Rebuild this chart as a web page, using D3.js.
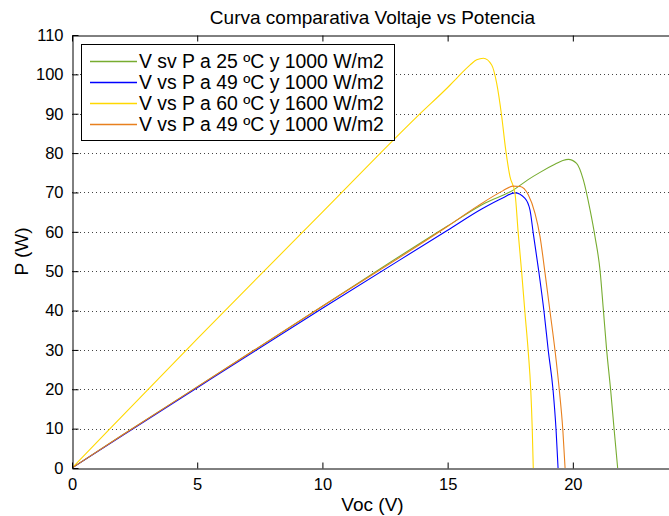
<!DOCTYPE html>
<html>
<head>
<meta charset="utf-8">
<script src="https://cdn.jsdelivr.net/npm/d3@7"></script>
<style>
  html, body { margin: 0; padding: 0; background: #fff; }
  svg { display: block; }
  text { font-family: "Liberation Sans", Arial, Helvetica, sans-serif; fill: #000; }
</style>
</head>
<body>
<svg id="chart" width="669" height="516"></svg>
<script>
// ---- data ----
const title = "Curva comparativa Voltaje vs Potencia";
const xLabel = "Voc (V)";
const yLabel = "P (W)";
const xTicks = [0, 5, 10, 15, 20];
const yTicks = [0, 10, 20, 30, 40, 50, 60, 70, 80, 90, 100, 110];

const seriesNames = [
  "V sv P a 25 ºC y 1000 W/m2",
  "V vs P a 49 ºC y 1000 W/m2",
  "V vs P a 60 ºC y 1600 W/m2",
  "V vs P a 49 ºC y 1000 W/m2"
];
const seriesColors = ["#77ac30", "#0000ff", "#ffd800", "#e8801e"];

const greenV = [0, 2, 5, 10, 15, 16.5, 17.62, 18.2, 18.69, 19.3, 19.6, 19.82, 20.15, 20.42, 20.69, 20.89, 21.09, 21.22, 21.35, 21.51, 21.65, 21.79];
const greenP = [0, 8.3, 20.6, 41.1, 61.5, 67.3, 70.6, 73.2, 75.1, 77.2, 78.1, 78.4, 77.4, 73.2, 65.5, 58.6, 50.0, 40.1, 30, 19.8, 9.7, 0];

const blueV = [0, 2, 5, 10, 15, 16.36, 17.2, 17.69, 18.09, 18.29, 18.42, 18.65, 18.85, 19.02, 19.21, 19.33, 19.41];
const blueP = [0, 8.2, 20.4, 40.6, 60.4, 65.8, 68.6, 69.9, 68.5, 65.5, 59.6, 49.5, 39.7, 29.8, 19.8, 9.7, 0];

const yellowV = [0, 1.5, 5, 10, 13.8, 15.1, 15.36, 15.9, 16.16, 16.43, 16.76, 16.96, 17.16, 17.32, 17.49, 17.69, 17.82, 17.96, 18.09, 18.22, 18.32, 18.38, 18.42];
const yellowP = [0, 9.9, 32.8, 65.0, 89.4, 97.3, 99.0, 102.4, 103.7, 104.1, 102.4, 97.7, 89.3, 80.8, 74, 69.8, 59.6, 49.5, 39.3, 29.5, 19.8, 9.7, 0];

const orangeV = [0, 2, 5, 10, 15, 16.16, 17.2, 17.6, 17.9, 18.22, 18.49, 18.69, 18.89, 19.09, 19.29, 19.46, 19.6, 19.69];
const orangeP = [0, 8.3, 20.6, 41.1, 61.4, 66.4, 70.4, 71.6, 71.5, 69.4, 64.7, 58.8, 49.5, 39.7, 29.8, 19.8, 9.7, 0];

const seriesV = [greenV, blueV, yellowV, orangeV];
const seriesP = [greenP, blueP, yellowP, orangeP];

// ---- layout ----
const svg = d3.select("#chart");
const mLeft = 72, mRight = 673, mTop = 35, mBottom = 468;
const x = d3.scaleLinear().domain([0, 24]).range([mLeft, mRight]);
const y = d3.scaleLinear().domain([0, 110]).range([mBottom, mTop]);

// grid (horizontal dotted)
svg.append("g").selectAll("line")
  .data(yTicks.filter(d => d > 0 && d < 110))
  .join("line")
  .attr("x1", mLeft).attr("x2", mRight)
  .attr("y1", d => Math.round(y(d)) + 0.5).attr("y2", d => Math.round(y(d)) + 0.5)
  .attr("stroke", "#444").attr("stroke-width", 1)
  .attr("stroke-dasharray", "1,3");

// lines
const line = d3.line().x(d => x(d[0])).y(d => y(d[1])).curve(d3.curveMonotoneX);
svg.append("clipPath").attr("id", "clip").append("rect")
  .attr("x", mLeft).attr("y", mTop).attr("width", mRight - mLeft).attr("height", mBottom - mTop);
const lines = svg.append("g").attr("clip-path", "url(#clip)");
seriesV.forEach((vs, i) => {
  const pts = vs.map((v, j) => [v, seriesP[i][j]]);
  lines.append("path").datum(pts)
    .attr("d", line)
    .attr("fill", "none")
    .attr("stroke", seriesColors[i])
    .attr("stroke-width", 1.1);
});

// axes
const xAxisB = d3.axisBottom(x).tickValues(xTicks).tickSizeInner(-6).tickSizeOuter(0).tickPadding(10);
const gxb = svg.append("g").attr("transform", `translate(0,${mBottom + 0.5})`).call(xAxisB);
const xAxisT = d3.axisTop(x).tickValues(xTicks).tickSizeInner(-6).tickSizeOuter(0).tickFormat("");
const gxt = svg.append("g").attr("transform", `translate(0,${mTop + 0.5})`).call(xAxisT);
const yAxisL = d3.axisLeft(y).tickValues(yTicks).tickSizeInner(-6).tickSizeOuter(0).tickPadding(9);
const gyl = svg.append("g").attr("transform", `translate(${mLeft + 0.5},0)`).call(yAxisL);

[gxb, gxt, gyl].forEach(g => {
  g.selectAll(".domain").attr("stroke", "#000").attr("stroke-width", 1);
  g.selectAll(".tick line").attr("stroke", "#000").attr("stroke-width", 1);
  g.selectAll("text").style("font-size", "16.5px").attr("fill", "#000");
});

// title and labels
svg.append("text").attr("x", (mLeft + mRight) / 2).attr("y", 24)
  .attr("text-anchor", "middle").style("font-size", "19px").text(title);
svg.append("text").attr("x", (mLeft + mRight) / 2).attr("y", 511)
  .attr("text-anchor", "middle").style("font-size", "19px").text(xLabel);
svg.append("text").attr("transform", `translate(28,${(mTop + mBottom) / 2}) rotate(-90)`)
  .attr("text-anchor", "middle").style("font-size", "19px").text(yLabel);

// legend
const lg = svg.append("g");
lg.append("rect").attr("x", 81.5).attr("y", 44.5).attr("width", 313).attr("height", 96)
  .attr("fill", "#fff").attr("stroke", "#000").attr("stroke-width", 1);
seriesNames.forEach((name, i) => {
  const cy = 61 + i * 21;
  lg.append("line").attr("x1", 90).attr("x2", 137)
    .attr("y1", cy + 0.5).attr("y2", cy + 0.5)
    .attr("stroke", seriesColors[i]).attr("stroke-width", 1.4);
  lg.append("text").attr("x", 139).attr("y", cy).attr("dy", "0.35em")
    .style("font-size", "19.4px").text(name);
});
</script>
</body>
</html>
